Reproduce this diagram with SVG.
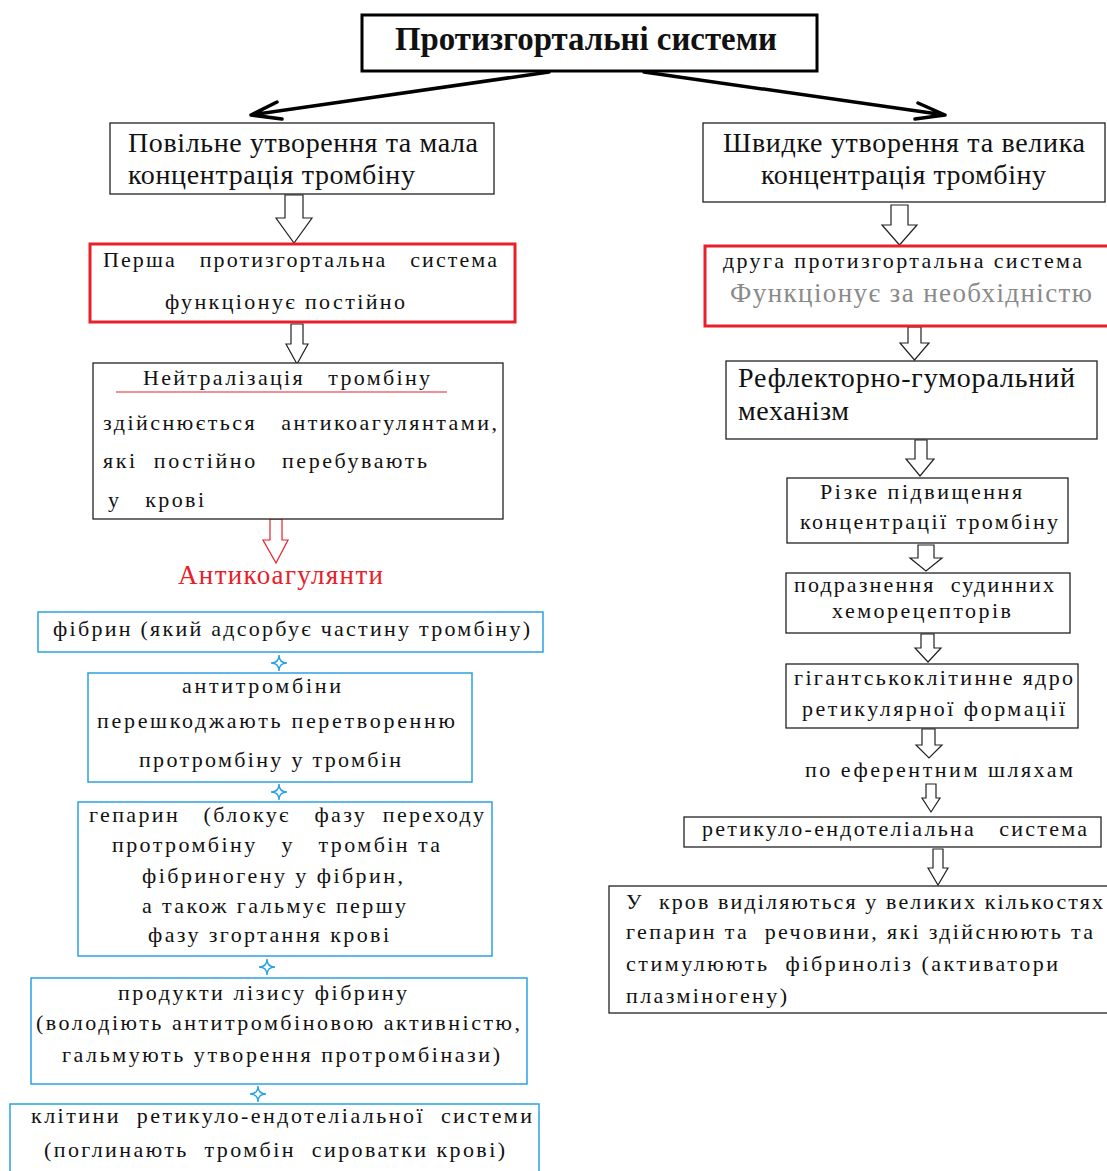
<svg xmlns="http://www.w3.org/2000/svg" width="1107" height="1171" viewBox="0 0 1107 1171">
<style>
text{font-family:"Liberation Serif","Times New Roman",serif;font-size:22px;fill:#111;white-space:pre}
.big{font-size:28px}
.box{fill:#fff;stroke:#222;stroke-width:1.3}
.red{fill:#fff;stroke:#e8202a;stroke-width:3}
.blue{fill:#fff;stroke:#2aa3e2;stroke-width:1.5}
.blk{fill:#fff;stroke:#222;stroke-width:1.2}
.rarr{fill:#fff;stroke:#e8202a;stroke-width:1.2}
.star{fill:#fff;stroke:#2aa3e2;stroke-width:1.4}
.thick{stroke:#000;stroke-width:3.5;fill:none;stroke-linecap:round;stroke-linejoin:round}
</style>
<rect width="1107" height="1171" fill="#fff"/>
<g id="connectors">
<path class="thick" d="M549 72 L251 115 M277 102 L251 115 L282 119"/>
<path class="thick" d="M644 72 L945 115 M918 103 L945 115 L915 119"/>
<polygon class="blk" points="285,195 303,195 303,218 312,218 294,243 276,218 285,218"/>
<polygon class="blk" points="291,324 303,324 303,344 308,344 297,364 286,344 291,344"/>
<polygon class="rarr" points="270,519 282,519 282,540 288,540 276,563 263,540 270,540"/>
<polygon class="blk" points="891,205 908,205 908,225 917,225 899.5,245 882,225 891,225"/>
<polygon class="blk" points="908,327 921,327 921,343 929,343 914.5,360 900,343 908,343"/>
<polygon class="blk" points="915,440 927,440 927,459 934,459 920,476 906,459 915,459"/>
<polygon class="blk" points="918,545 934,545 934,558 942,558 926,571 910,558 918,558"/>
<polygon class="blk" points="921,634 934,634 934,648 941,648 928,662 915,648 921,648"/>
<polygon class="blk" points="922,729 935,729 935,745 942,745 929,758 916,745 922,745"/>
<polygon class="blk" points="926,784 936,784 936,798 940,798 931,812 922,798 926,798"/>
<polygon class="blk" points="933,849 943,849 943,868 948,868 938,885 928,868 933,868"/>
<path class="star" d="M279 655 Q279 663 287 663 Q279 663 279 671 Q279 663 271 663 Q279 663 279 655Z"/>
<path class="star" d="M279 784 Q279 792 287 792 Q279 792 279 800 Q279 792 271 792 Q279 792 279 784Z"/>
<path class="star" d="M267 959 Q267 967 275 967 Q267 967 267 975 Q267 967 259 967 Q267 967 267 959Z"/>
<path class="star" d="M258 1086 Q258 1094 266 1094 Q258 1094 258 1102 Q258 1094 250 1094 Q258 1094 258 1086Z"/>
</g>
<g id="title">
<rect x="362" y="15" width="455" height="56" fill="#fff" stroke="#000" stroke-width="3"/>
<text x="395" y="50" style="font-size:33px;font-weight:bold" textLength="382" lengthAdjust="spacingAndGlyphs">Протизгортальні системи</text>
</g>
<g id="slow">
<rect class="box" x="110" y="123" width="384" height="71"/>
<text class="big" x="128" y="152" textLength="350" lengthAdjust="spacing">Повільне утворення та мала</text>
<text class="big" x="128" y="184" textLength="287" lengthAdjust="spacing">концентрація тромбіну</text>
</g>
<g id="fast">
<rect class="box" x="703" y="123" width="402" height="79"/>
<text class="big" x="723" y="152" textLength="362" lengthAdjust="spacing">Швидке утворення та велика</text>
<text class="big" x="761" y="184" textLength="285" lengthAdjust="spacing">концентрація тромбіну</text>
</g>
<g id="first-system">
<rect class="red" x="90" y="244" width="425" height="78"/>
<text x="103" y="267" textLength="394" lengthAdjust="spacing">Перша   протизгортальна   система</text>
<text x="165" y="309" textLength="240" lengthAdjust="spacing">функціонує постійно</text>
</g>
<g id="neutralization">
<rect class="box" x="93" y="363" width="410" height="156"/>
<text x="143" y="385" textLength="287" lengthAdjust="spacing">Нейтралізація   тромбіну</text>
<line x1="116" y1="392" x2="447" y2="392" stroke="#e8202a" stroke-width="1.2"/>
<text x="103" y="430" textLength="394" lengthAdjust="spacing">здійснюється   антикоагулянтами,</text>
<text x="103" y="468" textLength="324" lengthAdjust="spacing">які  постійно   перебувають</text>
<text x="108" y="507" textLength="96" lengthAdjust="spacing">у   крові</text>
</g>
<g id="anticoagulants">
<text x="178" y="584" style="font-size:27px;fill:#e8202a" textLength="205" lengthAdjust="spacing">Антикоагулянти</text>
</g>
<g id="fibrin">
<rect class="blue" x="38" y="612" width="505" height="40"/>
<text x="53" y="636" textLength="477" lengthAdjust="spacing">фібрин (який адсорбує частину тромбіну)</text>
</g>
<g id="antithrombins">
<rect class="blue" x="88" y="673" width="384" height="109"/>
<text x="182" y="693" textLength="159" lengthAdjust="spacing">антитромбіни</text>
<text x="97" y="728" textLength="358" lengthAdjust="spacing">перешкоджають перетворенню</text>
<text x="139" y="767" textLength="262" lengthAdjust="spacing">протромбіну у тромбін</text>
</g>
<g id="heparin">
<rect class="blue" x="78" y="802" width="414" height="154"/>
<text x="89" y="822" textLength="395" lengthAdjust="spacing">гепарин   (блокує   фазу  переходу</text>
<text x="112" y="852" textLength="328" lengthAdjust="spacing">протромбіну   у   тромбін та</text>
<text x="142" y="883" textLength="261" lengthAdjust="spacing">фібриногену у фібрин,</text>
<text x="142" y="913" textLength="264" lengthAdjust="spacing">а також гальмує першу</text>
<text x="148" y="942" textLength="241" lengthAdjust="spacing">фазу згортання крові</text>
</g>
<g id="lysis-products">
<rect class="blue" x="31" y="978" width="496" height="106"/>
<text x="118" y="1000" textLength="289" lengthAdjust="spacing">продукти лізису фібрину</text>
<text x="36" y="1030" textLength="484" lengthAdjust="spacing">(володіють антитромбіновою активністю,</text>
<text x="62" y="1062" textLength="438" lengthAdjust="spacing">гальмують утворення протромбінази)</text>
</g>
<g id="res-cells">
<rect class="blue" x="10" y="1104" width="529" height="80"/>
<text x="31" y="1123" textLength="501" lengthAdjust="spacing">клітини  ретикуло-ендотеліальної  системи</text>
<text x="44" y="1157" textLength="461" lengthAdjust="spacing">(поглинають  тромбін  сироватки крові)</text>
</g>
<g id="second-system">
<rect class="red" x="705" y="246" width="410" height="80"/>
<text x="723" y="268" textLength="359" lengthAdjust="spacing">друга протизгортальна система</text>
<text x="730" y="302" style="font-size:27px;fill:#8a8a8a" textLength="362" lengthAdjust="spacing">Функціонує за необхідністю</text>
</g>
<g id="reflex">
<rect class="box" x="726" y="361" width="371" height="78"/>
<text class="big" x="738" y="387" textLength="337" lengthAdjust="spacing">Рефлекторно-гуморальний</text>
<text class="big" x="738" y="420" textLength="111" lengthAdjust="spacing">механізм</text>
</g>
<g id="sharp-rise">
<rect class="box" x="787" y="478" width="281" height="65"/>
<text x="820" y="499" textLength="202" lengthAdjust="spacing">Різке підвищення</text>
<text x="800" y="529" textLength="258" lengthAdjust="spacing">концентрації тромбіну</text>
</g>
<g id="chemoreceptors">
<rect class="box" x="786" y="573" width="284" height="60"/>
<text x="794" y="592" textLength="260" lengthAdjust="spacing">подразнення  судинних</text>
<text x="832" y="618" textLength="179" lengthAdjust="spacing">хеморецепторів</text>
</g>
<g id="nucleus">
<rect class="box" x="786" y="664" width="292" height="64"/>
<text x="794" y="685" textLength="279" lengthAdjust="spacing">гігантськоклітинне ядро</text>
<text x="802" y="716" textLength="263" lengthAdjust="spacing">ретикулярної формації</text>
</g>
<g id="efferent">
<text x="805" y="777" textLength="268" lengthAdjust="spacing">по еферентним шляхам</text>
</g>
<g id="res-system">
<rect class="box" x="684" y="817" width="417" height="30"/>
<text x="702" y="836" textLength="385" lengthAdjust="spacing">ретикуло-ендотеліальна   система</text>
</g>
<g id="release">
<rect class="box" x="609" y="886" width="506" height="127"/>
<text x="626" y="909" textLength="477" lengthAdjust="spacing">У  кров виділяються у великих кількостях</text>
<text x="626" y="939" textLength="467" lengthAdjust="spacing">гепарин та  речовини, які здійснюють та</text>
<text x="626" y="971" textLength="432" lengthAdjust="spacing">стимулюють  фібриноліз (активатори</text>
<text x="626" y="1003" textLength="161" lengthAdjust="spacing">плазміногену)</text>
</g>
</svg>
